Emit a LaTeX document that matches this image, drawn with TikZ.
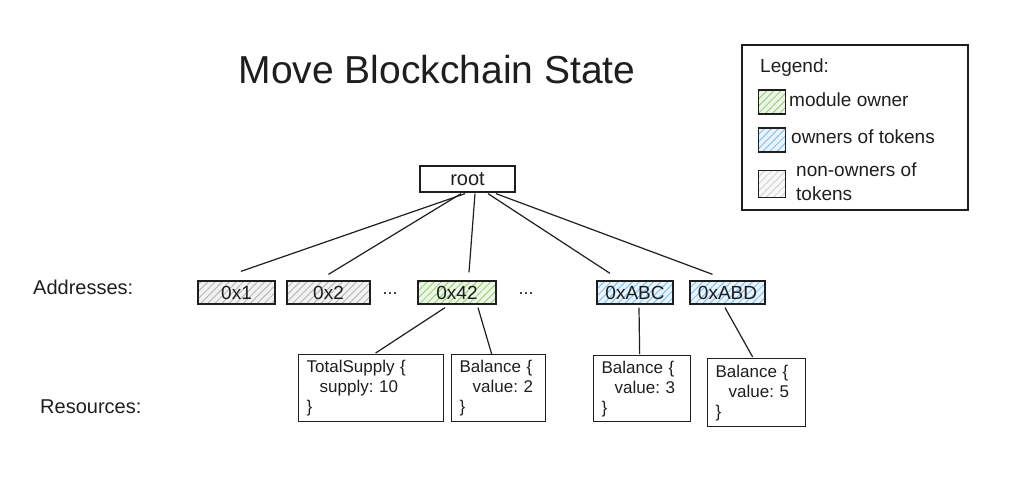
\documentclass[tikz,border=0pt]{standalone}
\usepackage{fontspec}
\setmainfont{Liberation Sans}
\usepackage{xcolor}
\usepackage{tikz}
\usetikzlibrary{calc,patterns.meta,positioning}
\frenchspacing

\definecolor{ink}{HTML}{1E1E1E}
\definecolor{greyhatch}{HTML}{B9B9B9}
\definecolor{lightgreyhatch}{HTML}{D6D6D6}
\definecolor{greenhatch}{HTML}{9CD27C}
\definecolor{bluehatch}{HTML}{86C3F2}

\begin{document}
\begin{tikzpicture}[x=1pt, y=-1pt,
    every node/.style={text=ink},
    hatch/.style={preaction={fill=#1!18}, preaction={pattern={Lines[angle=45,distance=5pt,line width=1pt]}, pattern color=#1}},
    addr/.style={draw=ink, line width=1.3pt, minimum height=23pt, inner sep=0pt, font=\fontsize{19}{20}\selectfont},
    res/.style={draw=ink, line width=1.3pt, anchor=north west, align=left, inner xsep=8pt, inner ysep=0pt, font=\fontsize{17}{20}\selectfont},
    link/.style={draw=ink, line width=1.2pt},
    swatch/.style={draw=ink, line width=1.1pt, minimum width=27pt, minimum height=24pt, inner sep=0pt},
    lbl/.style={anchor=west, inner sep=0pt, font=\fontsize{19}{24}\selectfont}]
    \useasboundingbox (0,0) rectangle (1009,497);

    \node (title) at (437,70) {\fontsize{39}{42}\selectfont Move Blockchain State};

    % legend
    \node[draw=ink, line width=1.3pt, minimum width=226pt, minimum height=165pt, inner sep=0pt] (legend) at (855,127.5) {};
    \node[lbl] (leghead) at (760,68) {Legend:};
    \node[swatch, hatch=greenhatch] (swgreen) at (772,102) {};
    \node[swatch, hatch=bluehatch] (swblue) at (772,140) {};
    \node[swatch, hatch=lightgreyhatch, minimum height=27pt] (swgrey) at (772,184) {};
    \node[lbl] (txgreen) at (789,100) {module owner};
    \node[lbl] (txblue) at (791,137) {owners of tokens};
    \node[lbl, align=left] (txgrey) at (796,182) {non-owners of\\tokens};

    % left labels
    \node[lbl, font=\fontsize{20}{22}\selectfont] (addrlbl) at (33,287) {Addresses:};
    \node[lbl, font=\fontsize{20}{22}\selectfont] (reslbl) at (40,407) {Resources:};

    \node[draw=ink, line width=1.3pt, minimum width=95pt, minimum height=26pt, inner sep=0pt, font=\fontsize{20}{22}\selectfont] (root) at (467.5,179) {root};

    % addresses
    \node[addr, hatch=greyhatch, minimum width=77pt] (a1) at (236.5,292.5) {0x1};
    \node[addr, hatch=greyhatch, minimum width=83pt] (a2) at (328.5,292.5) {0x2};
    \node[font=\fontsize{18}{20}\selectfont] (dots1) at (390,294) {...};
    \node[addr, hatch=greenhatch, minimum width=78pt] (a42) at (457,292.5) {0x42};
    \node[font=\fontsize{18}{20}\selectfont] (dots2) at (526,294) {...};
    \node[addr, hatch=bluehatch, minimum width=76pt] (abc) at (635,292.5) {0xABC};
    \node[addr, hatch=bluehatch, minimum width=75pt] (abd) at (727.5,292.5) {0xABD};

    \draw[link] ($(root.south)+(-2.5,1)$) -- ($(a1.north)+(4.5,-9)$);
    \draw[link] ($(root.south)+(-6.5,1)$) -- ($(a2.north)+(0,-6)$);
    \draw[link] ($(root.south)+(7.5,1)$) -- ($(a42.north)+(12,-8)$);
    \draw[link] ($(root.south)+(20.5,1)$) -- ($(abc.north)+(-25,-7)$);
    \draw[link] ($(root.south)+(28.5,1)$) -- ($(abd.north)+(-15,-6)$);

    % resources
    \node[res, text width=129pt, minimum height=67pt] (supply) at (298,354) {TotalSupply \{\\\hspace*{13pt}supply:~10\\\}};
    \node[res, text width=78pt, minimum height=67pt] (bal2) at (451,354) {Balance~\{\\\hspace*{13pt}value:~2\\\}};
    \node[res, text width=81pt, minimum height=66pt] (bal3) at (593,355) {Balance~\{\\\hspace*{13pt}value:~3\\\}};
    \node[res, text width=82pt, minimum height=68pt] (bal5) at (707,358) {Balance~\{\\\hspace*{13pt}value:~5\\\}};

    \draw[link] ($(a42.south)+(-12,3)$) -- ($(supply.north)+(4.5,-1)$);
    \draw[link] ($(a42.south)+(21,3)$) -- ($(bal2.north)+(-7,0)$);
    \draw[link] ($(abc.south)+(4,3)$) -- ($(bal3.north)+(-2.5,-1)$);
    \draw[link] ($(abd.south)+(-2.5,3)$) -- ($(bal5.north)+(-4,-1)$);
\end{tikzpicture}
\end{document}
